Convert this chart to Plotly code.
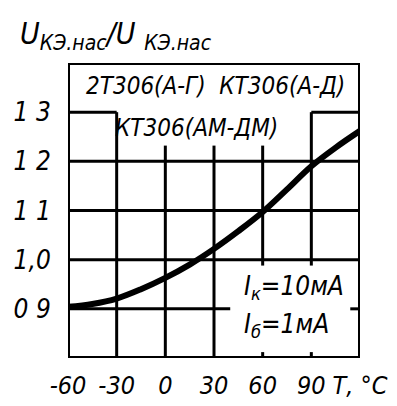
import plotly.graph_objects as go

# Data
temperature_c = [-60, -45, -30, -15, 0, 15, 30, 45, 60, 75, 90, 105, 120]
voltage_ratio = [0.904, 0.91, 0.921, 0.94, 0.963, 0.99, 1.022, 1.058, 1.097, 1.143, 1.19, 1.228, 1.262]

x_tick_vals = [-60, -30, 0, 30, 60, 90, 120]
x_tick_text = ["-60", "-30", "0", "30", "60", "90", "Т, °С"]
y_tick_vals = [0.9, 1.0, 1.1, 1.2, 1.3]
y_tick_text = ["0 9", "1,0", "1 1", "1 2", "1 3"]

FONT = "Liberation Sans Narrow, DejaVu Sans Condensed, Liberation Sans, sans-serif"

fig = go.Figure()
fig.add_trace(go.Scatter(
    x=temperature_c, y=voltage_ratio, mode="lines",
    line=dict(color="black", width=6, shape="spline"),
    hoverinfo="skip", showlegend=False,
))

LW = 3
def seg(x0, y0, x1, y1, w=LW):
    fig.add_shape(type="line", x0=x0, y0=y0, x1=x1, y1=y1, xref="x", yref="y",
                  line=dict(color="black", width=w), layer="below")

# Grid segments (broken where labels sit)
seg(-30, 0.8, -30, 1.3)
seg(0, 0.8, 0, 1.232)
seg(30, 0.8, 30, 1.232)
seg(60, 1.0, 60, 1.232)
seg(60, 1.0, 60, 0.988)
seg(60, 0.8, 60, 0.812)
seg(90, 1.0, 90, 1.3)
seg(90, 1.0, 90, 0.988)
seg(90, 0.8, 90, 0.812)
seg(-60, 1.3, -30, 1.3)
seg(90, 1.3, 120, 1.3)
seg(-60, 1.2, 120, 1.2)
seg(-60, 1.1, 120, 1.1)
seg(-60, 1.0, 120, 1.0)
seg(-60, 0.9, 40, 0.9)
seg(114, 0.9, 120, 0.9)
# Frame
fig.add_shape(type="rect", x0=-60, y0=0.8, x1=120, y1=1.4, xref="x", yref="y",
              line=dict(color="black", width=4), layer="below")

fig.update_xaxes(range=[-60, 120], tickvals=x_tick_vals, ticktext=x_tick_text,
                 showgrid=False, zeroline=False, showline=False, tickangle=0,
                 automargin=False,
                 ticks="outside", ticklen=5, tickcolor="rgba(0,0,0,0)",
                 tickfont=dict(family=FONT, size=25, color="black", style="italic"))
fig.update_yaxes(range=[0.8, 1.4], tickvals=y_tick_vals, ticktext=y_tick_text,
                 showgrid=False, zeroline=False, showline=False, automargin=False,
                 ticks="outside", ticklen=11, tickcolor="rgba(0,0,0,0)",
                 tickfont=dict(family=FONT, size=26, color="black", style="italic"))

def ann(text, x, y, size, xanchor="center", xref="x", yref="y"):
    fig.add_annotation(text=text, x=x, y=y, xref=xref, yref=yref, showarrow=False,
                       xanchor=xanchor, yanchor="middle",
                       font=dict(family=FONT, size=size, color="black", style="italic"))

ann("2Т306(А-Г)  КТ306(А-Д)", 31, 1.353, 24)
ann("КТ306(АМ-ДМ)", 19, 1.268, 24)
ann("I<sub>к</sub>=10мА", 47, 0.943, 26, xanchor="left")
ann("I<sub>б</sub>=1мА", 47, 0.866, 26, xanchor="left")

# Y-axis title at top-left
fig.add_annotation(text="U<sub>КЭ.нас</sub>/U <sub>КЭ.нас</sub>", x=-50/292, y=1 + 27/295,
                   xref="paper", yref="paper", showarrow=False, xanchor="left", yanchor="middle",
                   font=dict(family=FONT, size=30, color="black", style="italic"))

fig.update_layout(
    width=397, height=406,
    margin=dict(l=60, r=45, t=55, b=56),
    paper_bgcolor="white", plot_bgcolor="white",
)

fig.write_html("out.html")
